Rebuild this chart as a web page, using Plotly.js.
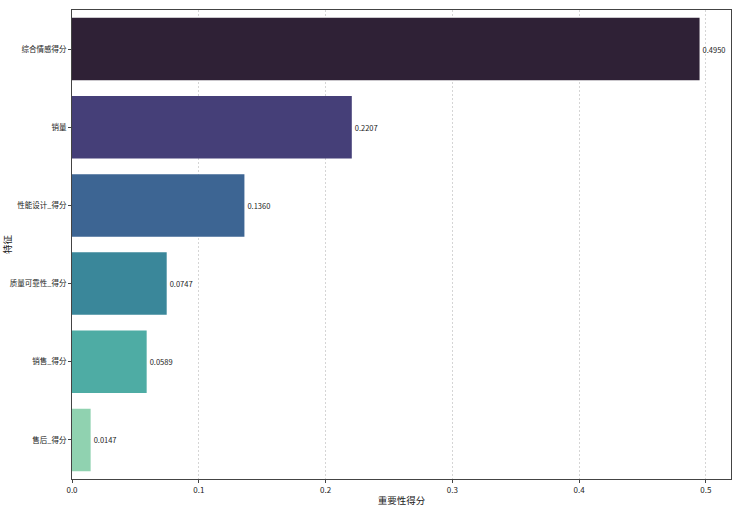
<!DOCTYPE html>
<html>
<head>
<meta charset="utf-8">
<script src="https://cdn.plot.ly/plotly-3.0.1.min.js"></script>
<style>
  html, body { margin: 0; padding: 0; background: #fff; }
  #chart { width: 736px; height: 507px; }
</style>
</head>
<body>
<div id="chart"></div>
<script>
// feature importance, top to bottom
const features = ['综合情感得分', '销量', '性能设计_得分', '质量可靠性_得分', '销售_得分', '售后_得分'];
const scores = [0.4950, 0.2207, 0.1360, 0.0747, 0.0589, 0.0147];
const barColors = ['#2f2136', '#453f78', '#3d6593', '#3a879a', '#4eaca4', '#90d2b0'];

const font = '"Noto Sans CJK SC", "DejaVu Sans", sans-serif';

const trace = {
    type: 'bar',
    orientation: 'h',
    x: scores,
    y: features,
    width: 0.8,
    marker: {color: barColors, line: {width: 0}},
    text: scores.map(v => v.toFixed(4)),
    textposition: 'outside',
    outsidetextfont: {size: 7.5, color: '#222222', family: font},
    cliponaxis: false,
    hoverinfo: 'x+y'
};

const layout = {
    width: 736,
    height: 507,
    margin: {l: 72, r: 5, t: 10, b: 28},
    paper_bgcolor: '#fff',
    plot_bgcolor: '#fff',
    font: {family: font, size: 8, color: '#222'},
    showlegend: false,
    bargap: 0.2,
    xaxis: {
        range: [0, 0.5198],
        dtick: 0.1,
        tickformat: '.1f',
        showgrid: true,
        gridcolor: 'rgba(180,180,180,0.7)',
        griddash: '2px,2px',
        gridwidth: 0.8,
        zeroline: false,
        showline: true,
        linecolor: '#444',
        linewidth: 1,
        mirror: true,
        ticks: 'outside',
        ticklen: 3,
        tickcolor: '#444',
        tickfont: {size: 8},
        layer: 'above traces',
        title: {text: '重要性得分', font: {size: 9.5}, standoff: 4}
    },
    yaxis: {
        autorange: 'reversed',
        showgrid: false,
        zeroline: false,
        showline: true,
        linecolor: '#444',
        linewidth: 1,
        mirror: true,
        ticks: 'outside',
        ticklen: 3,
        tickcolor: '#444',
        tickfont: {size: 7.5},
        title: {text: '特征', font: {size: 9.5}, standoff: 12}
    }
};

Plotly.newPlot('chart', [trace], layout, {displayModeBar: false, staticPlot: true});
</script>
</body>
</html>
